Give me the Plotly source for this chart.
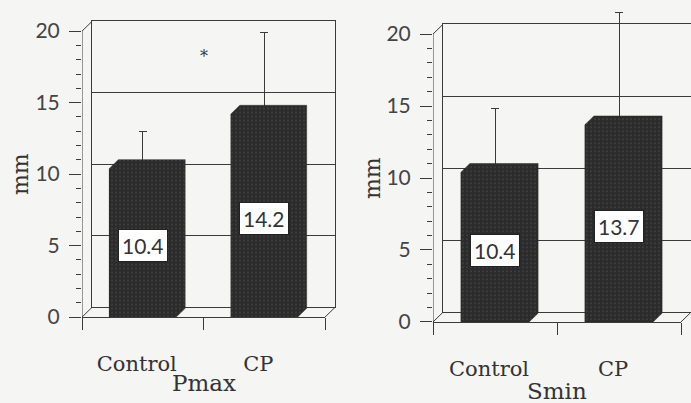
import plotly.graph_objects as go

# ---- data -------------------------------------------------------------
categories = ["Control", "CP"]
pmax_mean = [10.4, 14.2]
pmax_sd = [2.6, 5.7]
smin_mean = [10.4, 13.7]
smin_sd = [4.4, 7.8]
panel_titles = ["Pmax", "Smin"]
y_title = "mm"
y_ticks = [0, 5, 10, 15, 20]
star_y = 18.2  # height of the significance marker in the Pmax panel

# ---- layout constants (pixels) ---------------------------------------
W, H = 691, 403
LINE = "#3a3a3a"
BG = "#f5f5f3"
BAR = "#2b2b2b"
SANS = "Lato, Open Sans, sans-serif"
SERIF = "DejaVu Serif, Liberation Serif, serif"
WALL_DX, WALL_DY = 10, 10   # depth offset of the back wall
BAR_D = 9                   # depth of each 3-D bar
BAR_W = 0.55
Y_TOP = 22                  # headroom so tall error bars are not clipped

panels = [
    dict(front_x=(82, 325), front_y=(326, 32), title_y=394, ytitle_x=20),
    dict(front_x=(433, 681), front_y=(331, 35), title_y=402, ytitle_x=372),
]
series = [(pmax_mean, pmax_sd), (smin_mean, smin_sd)]


def fx(p):
    return p / W


def fy(p):
    return 1 - p / H


fig = go.Figure()
shapes = []
annotations = []
layout_axes = {}
speckle = dict(shape=".", fgcolor="#6a6a6a", bgcolor=BAR, size=4, solidity=0.15)

for i, (panel, (means, sds), title) in enumerate(zip(panels, series, panel_titles)):
    x0p, x1p = panel["front_x"]
    y0p, y20p = panel["front_y"]
    ppu = (y0p - y20p) / 20.0
    ytop_p = y0p - Y_TOP * ppu
    bsuf = "" if i == 0 else str(i + 1)     # back-wall axes
    fsuf = str(i + 3)                        # front axes (drawn on top)

    # back wall with its horizontal gridlines
    layout_axes[f"xaxis{bsuf}"] = dict(
        domain=[fx(x0p + WALL_DX), fx(min(x1p + WALL_DX, W))], range=[-0.5, 1.5],
        anchor=f"y{bsuf}", showline=True, mirror=True, linecolor=LINE, linewidth=1,
        showgrid=False, zeroline=False, showticklabels=False, ticks="",
    )
    layout_axes[f"yaxis{bsuf}"] = dict(
        domain=[fy(y0p - WALL_DY), fy(y20p - WALL_DY)], range=[0, 20],
        anchor=f"x{bsuf}", showline=True, mirror=(i == 0), linecolor=LINE, linewidth=1,
        tickvals=y_ticks, showgrid=True, gridcolor=LINE, gridwidth=1,
        zeroline=False, showticklabels=False, ticks="",
    )
    fig.add_trace(go.Scatter(x=[None], y=[None], xaxis=f"x{bsuf}", yaxis=f"y{bsuf}",
                             showlegend=False, hoverinfo="skip"))

    # front axes: floor line, category ticks, value ticks
    layout_axes[f"xaxis{fsuf}"] = dict(
        domain=[fx(x0p), fx(x1p)], range=[-0.5, 1.5], anchor=f"y{fsuf}",
        showline=True, linecolor=LINE, linewidth=1, showgrid=False, zeroline=False,
        tickvals=[0, 1], ticktext=categories, ticks="",
        tickfont=dict(family=SERIF, size=21, color="#333"),
        ticklabelstandoff=28, ticklabelshift=-6,
        minor=dict(tickvals=[-0.5, 0.5, 1.5], ticks="outside", ticklen=12,
                   tickcolor=LINE, tickwidth=1),
    )
    layout_axes[f"yaxis{fsuf}"] = dict(
        domain=[fy(y0p), fy(ytop_p)], range=[0, Y_TOP], anchor=f"x{fsuf}",
        showline=False, showgrid=False, zeroline=False,
        tickvals=y_ticks, ticks="outside", ticklen=12, tickcolor=LINE, tickwidth=1,
        tickfont=dict(family=SANS, size=21, color="#444"), ticklabelstandoff=5,
        minor=dict(tickvals=[v for v in range(21) if v % 5], ticks="outside",
                   ticklen=5, tickcolor=LINE, tickwidth=1),
    )

    # front vertical axis line, 0..20
    shapes.append(dict(type="line", xref=f"x{fsuf}", yref=f"y{fsuf}",
                       x0=-0.5, x1=-0.5, y0=0, y1=20, line=dict(color=LINE, width=1)))
    # side-wall / floor diagonals
    for (px, py) in [(x0p, y20p), (x0p, y0p), (x1p, y0p)]:
        shapes.append(dict(type="line", xref="paper", yref="paper",
                           x0=fx(px), y0=fy(py), x1=fx(px + WALL_DX), y1=fy(py - WALL_DY),
                           line=dict(color=LINE, width=1)))

    # bar front faces carrying the error bars
    fig.add_trace(go.Bar(
        x=[0, 1], y=means, width=BAR_W, xaxis=f"x{fsuf}", yaxis=f"y{fsuf}",
        marker=dict(color=BAR, line=dict(width=0)),
        error_y=dict(type="data", array=sds, arrayminus=[0] * len(sds), symmetric=False,
                     width=4, thickness=1, color=LINE),
        showlegend=False, hoverinfo="skip",
    ))

    # full 3-D silhouette of each bar (front, top and side faces)
    dx = BAR_D / ((x1p - x0p) / 2.0)
    dy = BAR_D / ppu
    for j, v in enumerate(means):
        L, R = j - BAR_W / 2, j + BAR_W / 2
        fig.add_trace(go.Scatter(
            x=[L, L, L + dx, R + dx, R + dx, R, L],
            y=[0, v, v + dy, v + dy, dy, 0, 0],
            fill="toself", fillcolor=BAR, mode="lines", line=dict(width=0.5, color=BAR),
            fillpattern=speckle,
            xaxis=f"x{fsuf}", yaxis=f"y{fsuf}", showlegend=False, hoverinfo="skip",
        ))
        annotations.append(dict(
            xref=f"x{fsuf}", yref=f"y{fsuf}", x=j, y=v / 2, yshift=-3, text=f"{v:.1f}",
            showarrow=False, bgcolor="white", bordercolor="#222", borderwidth=1, borderpad=3,
            font=dict(family=SANS, size=21, color="#333"),
        ))

    # panel title and y-axis title
    annotations.append(dict(xref=f"x{fsuf} domain", yref="paper", x=0.5, y=fy(panel["title_y"]),
                            text=title, showarrow=False, xanchor="center", yanchor="middle",
                            font=dict(family=SERIF, size=23, color="#333")))
    annotations.append(dict(xref="paper", yref=f"y{fsuf}", x=fx(panel["ytitle_x"]), y=10,
                            text=y_title, textangle=-90, showarrow=False,
                            xanchor="center", yanchor="middle",
                            font=dict(family=SERIF, size=22, color="#333")))

annotations.append(dict(xref="x3", yref="y3", x=0.5, y=star_y, text="*", showarrow=False,
                        font=dict(family=SERIF, size=16, color="#333")))

fig.update_layout(
    width=W, height=H, margin=dict(l=0, r=0, t=0, b=0),
    paper_bgcolor=BG, plot_bgcolor="rgba(0,0,0,0)",
    shapes=shapes, annotations=annotations, bargap=0,
    **layout_axes,
)

fig.write_html("out.html")
